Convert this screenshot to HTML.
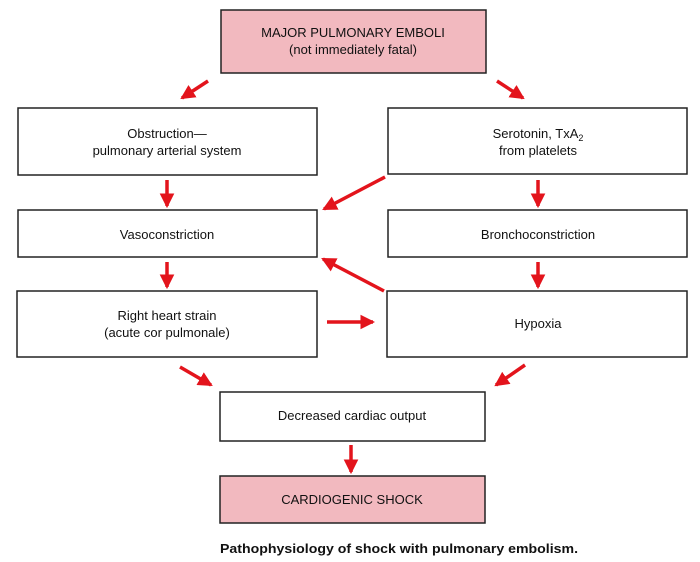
<!DOCTYPE html>
<html><head><meta charset="utf-8"><style>
html,body{margin:0;padding:0;background:#fff;}
svg{display:block;}
text{font-family:"Liberation Sans",Arial,sans-serif;font-size:13px;fill:#111;}
</style></head><body>
<svg width="700" height="562" viewBox="0 0 700 562" xmlns="http://www.w3.org/2000/svg">
<defs>
<marker id="a" markerWidth="4.2" markerHeight="4.2" refX="3.6" refY="2.1" orient="auto" markerUnits="strokeWidth">
<path d="M0,0 L4.2,2.1 L0,4.2 z" fill="#e3141c"/>
</marker>
</defs>
<g stroke="#222" stroke-width="1.5" fill="#fff">
<rect x="221" y="10" width="265" height="63" fill="#f2b9bf"/>
<rect x="18" y="108" width="299" height="67"/>
<rect x="388" y="108" width="299" height="66"/>
<rect x="18" y="210" width="299" height="47"/>
<rect x="388" y="210" width="299" height="47"/>
<rect x="17" y="291" width="300" height="66"/>
<rect x="387" y="291" width="300" height="66"/>
<rect x="220" y="392" width="265" height="49"/>
<rect x="220" y="476" width="265" height="47" fill="#f2b9bf"/>
</g>
<g text-anchor="middle">
<text x="353" y="37">MAJOR PULMONARY EMBOLI</text>
<text x="353" y="54">(not immediately fatal)</text>
<text x="167" y="138">Obstruction—</text>
<text x="167" y="155">pulmonary arterial system</text>
<text x="538" y="138">Serotonin, TxA<tspan font-size="9" dy="3">2</tspan></text>
<text x="538" y="155">from platelets</text>
<text x="167" y="239">Vasoconstriction</text>
<text x="538" y="239">Bronchoconstriction</text>
<text x="167" y="320">Right heart strain</text>
<text x="167" y="337">(acute cor pulmonale)</text>
<text x="538" y="328">Hypoxia</text>
<text x="352" y="420">Decreased cardiac output</text>
<text x="352" y="504">CARDIOGENIC SHOCK</text>
</g>
<text x="220" y="553" style="font-weight:bold;font-size:13px" textLength="358" lengthAdjust="spacingAndGlyphs">Pathophysiology of shock with pulmonary embolism.</text>
<g stroke="#e3141c" stroke-width="3.5" marker-end="url(#a)">
<line x1="208" y1="81" x2="182" y2="98"/>
<line x1="497" y1="81" x2="523" y2="98"/>
<line x1="167" y1="180" x2="167" y2="206"/>
<line x1="538" y1="180" x2="538" y2="206"/>
<line x1="385" y1="177" x2="324" y2="209"/>
<line x1="167" y1="262" x2="167" y2="287"/>
<line x1="538" y1="262" x2="538" y2="287"/>
<line x1="384" y1="291" x2="323" y2="259"/>
<line x1="327" y1="322" x2="373" y2="322"/>
<line x1="180" y1="367" x2="211" y2="385"/>
<line x1="525" y1="365" x2="496" y2="385"/>
<line x1="351" y1="445" x2="351" y2="472"/>
</g>
</svg>
</body></html>
